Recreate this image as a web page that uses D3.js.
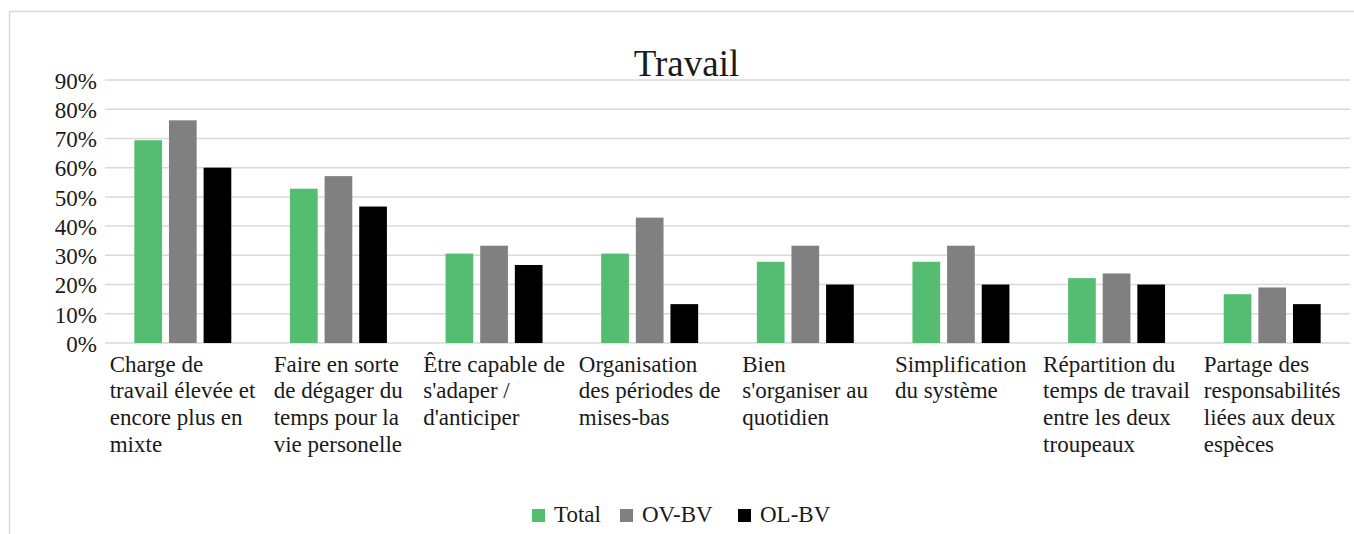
<!DOCTYPE html>
<html>
<head>
<meta charset="utf-8">
<script src="https://cdn.jsdelivr.net/npm/d3@7"></script>
<style>
  body { margin: 0; background: #fff; }
  text { font-family: "Liberation Serif", "Times New Roman", serif; fill: #1a1a1a; }
</style>
</head>
<body>
<script>
// data
const categories = [
  ["Charge de", "travail élevée et", "encore plus en", "mixte"],
  ["Faire en sorte", "de dégager du", "temps pour la", "vie personelle"],
  ["Être capable de", "s'adaper /", "d'anticiper"],
  ["Organisation", "des périodes de", "mises-bas"],
  ["Bien", "s'organiser au", "quotidien"],
  ["Simplification", "du système"],
  ["Répartition du", "temps de travail", "entre les deux", "troupeaux"],
  ["Partage des", "responsabilités", "liées aux deux", "espèces"]
];
const seriesNames = ["Total", "OV-BV", "OL-BV"];
const total = [0.694, 0.528, 0.306, 0.306, 0.278, 0.278, 0.222, 0.167];
const ovbv = [0.762, 0.571, 0.333, 0.429, 0.333, 0.333, 0.238, 0.190];
const olbv = [0.600, 0.467, 0.267, 0.133, 0.200, 0.200, 0.200, 0.133];
const yTicks = [0, 0.1, 0.2, 0.3, 0.4, 0.5, 0.6, 0.7, 0.8, 0.9];
const colors = ["#55bd72", "#808080", "#000000"];

const W = 1354, H = 534;
const svg = d3.select("body").append("svg")
    .attr("width", W)
    .attr("height", H);

// chart border
svg.append("rect")
    .attr("x", 9.5).attr("y", 11.5)
    .attr("width", 1360).attr("height", 540)
    .attr("fill", "#fff")
    .attr("stroke", "#d9d9d9")
    .attr("stroke-width", 1.5);

const plot = {left: 105, right: 1350, top: 80, bottom: 343};

const x0 = d3.scaleBand()
    .domain(d3.range(categories.length))
    .range([plot.left, plot.right])
    .paddingInner(0.377)
    .paddingOuter(0.377 / 2);

const x1 = d3.scaleBand()
    .domain(seriesNames)
    .range([0, x0.bandwidth()])
    .paddingInner(0.2);

const y = d3.scaleLinear()
    .domain([0, 0.9])
    .range([plot.bottom, plot.top]);

// gridlines
svg.append("g")
    .selectAll("line")
    .data(yTicks)
    .enter()
    .append("line")
    .attr("x1", plot.left)
    .attr("x2", plot.right)
    .attr("y1", d => y(d))
    .attr("y2", d => y(d))
    .attr("stroke", "#d9d9d9")
    .attr("stroke-width", 1.5);

// y axis labels
const yAxis = svg.append("g")
    .attr("transform", "translate(" + (plot.left - 8) + ",0)")
    .call(d3.axisLeft(y).tickValues(yTicks).tickFormat(d3.format(".0%")).tickSize(0).tickPadding(0));
yAxis.select(".domain").remove();
yAxis.selectAll("text")
    .attr("font-size", 23)
    .attr("dy", "0.36em")
    .style("font-family", "Liberation Serif, serif")
    .attr("fill", "#1a1a1a");

// bars
const series = [total, ovbv, olbv];
seriesNames.forEach((name, si) => {
  svg.append("g")
      .selectAll("rect")
      .data(series[si])
      .enter()
      .append("rect")
      .attr("x", (d, i) => x0(i) + x1(name))
      .attr("y", d => y(d))
      .attr("width", x1.bandwidth())
      .attr("height", d => y(0) - y(d))
      .attr("fill", colors[si]);
});

// category labels: wrapped lines, left aligned, block centred in the band
const catG = svg.append("g");
categories.forEach((lines, i) => {
  const g = catG.append("g");
  const t = g.append("text").attr("font-size", 23);
  lines.forEach((ln, k) => {
    t.append("tspan")
        .attr("x", 0)
        .attr("y", 371.5 + k * 26.7)
        .text(ln);
  });
  const bw = t.node().getBBox().width;
  const cx = x0(i) + x0.bandwidth() / 2;
  g.attr("transform", "translate(" + (cx - bw / 2) + ",0)");
});

// title
svg.append("text")
    .attr("x", 686.5)
    .attr("y", 76)
    .attr("text-anchor", "middle")
    .attr("font-size", 37)
    .text("Travail");

// legend
const legendX = [532, 620, 738];
const legend = svg.append("g");
seriesNames.forEach((name, i) => {
  legend.append("rect")
      .attr("x", legendX[i])
      .attr("y", 509)
      .attr("width", 13)
      .attr("height", 13)
      .attr("fill", colors[i]);
  legend.append("text")
      .attr("x", legendX[i] + 22)
      .attr("y", 522)
      .attr("font-size", 23)
      .text(name);
});
</script>
</body>
</html>
